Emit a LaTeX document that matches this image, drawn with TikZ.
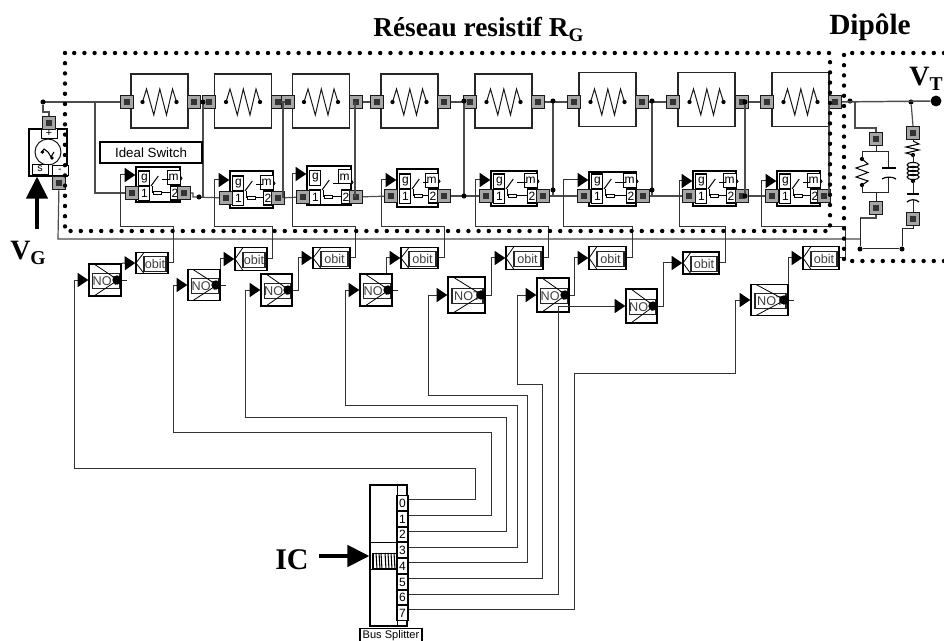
\documentclass[tikz,border=0pt]{standalone}
\usepackage{fontspec}
\setmainfont{Liberation Serif}
\setsansfont{Liberation Sans}
\usetikzlibrary{arrows.meta,calc}

\begin{document}
\begin{tikzpicture}[
  x=.75pt, y=-.75pt,
  font=\sffamily,
  wire/.style={line width=.9pt, draw=black!70},
  thin wire/.style={line width=.75pt, draw=black!85},
  sig/.style={-{Triangle[length=7.9pt,width=10.5pt,black]}, line width=.75pt, draw=black!80},
  bigarrow/.style={-{Triangle[length=16.5pt,width=16pt]}, line width=2.7pt, draw=black},
  title/.style={font=\rmfamily\bfseries\fontsize{20.5}{22}\selectfont, anchor=base west, inner sep=0},
  resbox/.style={draw=black!85, line width=1pt, fill=white, minimum width=42.8pt, minimum height=40.5pt, inner sep=0},
  swbox/.style={draw=black, line width=1.1pt, fill=white, inner sep=0},
  inbit/.style={draw=black, line width=.8pt, fill=white, inner sep=0, font=\sffamily\fontsize{9}{10}\selectfont},
  gatebox/.style={draw=black, line width=1.1pt, fill=white, inner sep=0},
  inbox/.style={draw=black!85, line width=.9pt, inner sep=0, text=black!75, font=\sffamily\fontsize{9.5}{10}\selectfont,
    minimum height=10.8pt},
  port/.style={draw=black!90, fill=black!35, line width=1pt, minimum size=9.5pt, inner sep=0,
    path picture={\fill[black!80] (path picture bounding box.center) +(-2.4pt,-2.4pt) rectangle +(2.4pt,2.4pt);}},
  jdot/.style={circle, fill=black, minimum size=3.8pt, inner sep=0},
  bitbox/.style={draw=black, line width=1pt, fill=white, inner sep=0, minimum width=8.2pt, minimum height=11.2pt,
    font=\sffamily\fontsize{9}{10}\selectfont},
  srcbit/.style={draw=black, line width=.7pt, fill=white, minimum width=12pt, minimum height=7pt, inner sep=0,
    font=\sffamily\fontsize{8}{8}\selectfont},
  dotframe/.style={line width=3.3pt, line cap=round, dash pattern=on 0pt off 7.65pt, draw=black}
]
\useasboundingbox (0,0) rectangle (944,641);

\node[title] (titre) at (373,37) {Réseau resistif R\textsubscript{G}};
\node[title, font=\rmfamily\bfseries\fontsize{22}{24}\selectfont] (dipole) at (829,35) {Dipôle};
\node[title, font=\rmfamily\bfseries\fontsize{21}{23}\selectfont] (vtlabel) at (909,86) {V\textsubscript{T}};
\node[title, font=\rmfamily\bfseries\fontsize{21}{23}\selectfont] (vglabel) at (10,260) {V\textsubscript{G}};
\node[title, font=\rmfamily\bfseries\fontsize{22.5}{24}\selectfont] (iclabel) at (275,569) {IC};

\foreach \i/\cx/\cy/\pl/\pr in {1/159.5/101/127/194, 2/243/101/209/278, 3/321/101/288/356, 4/409.5/101/377/444,
  5/503.5/101/470/538, 6/607.5/99.5/574/642, 7/706.5/99.5/673/742, 8/800.5/99.5/767/835}{
  \node[resbox] (r\i) at (\cx,\cy) {};
  \draw[line width=.75pt, black!90] (\cx-17,102) -- (\cx-13,89) -- (\cx-5.7,115) -- (\cx+.3,89) -- (\cx+7,115) -- (\cx+13,89) -- (\cx+17,102);
  \fill (\cx-17,102) circle (1.6pt) (\cx+17,102) circle (1.6pt);
  \node[port] (rl\i) at (\pl,102) {};
  \node[port] (rr\i) at (\pr,102) {};
}

\foreach \i/\x/\t/\w/\h/\pl/\pr/\py/\dy in {1/136/167/44/35/132/184/193/0, 2/230/171/43/37/226/278/198/0, 3/307/166/44/39/303/356/197/-4.5,
  4/397/169/41/38/391/444/196/0, 5/491/171/46/35/486/543/196/0, 6/589/172/47/34/584/643/196/0,
  7/693/171/43/35/689/742/196/0, 8/777/171/43/35/772/824/196/0}{
  \node[swbox, minimum width=\w*.75pt, minimum height=\h*.75pt] (s\i) at ({\x+\w/2},{\t+\h/2}) {};
  \begin{scope}[shift={({\x},{\py-27.7})}]
    \node[inbit, minimum width=8.3pt, minimum height=11.2pt] (g\i) at (8.4,{13.2+\dy}) {g};
    \node[inbit, minimum width=8.3pt, minimum height=11.2pt] (a\i) at (8.4,28.2) {1};
    \node[inbit, minimum width=9.6pt, minimum height=10.5pt] (m\i) at ({\w-6.3},{12+\dy}) {m};
    \node[inbit, minimum width=7pt, minimum height=10.5pt] (b\i) at ({\w-5},27.7) {2};
    \draw[line width=.75pt] (15,20.7) -- (22.3,10.7);
    \draw[line width=.75pt] (26,14) -- (\w-9.7,14);
    \draw[line width=.75pt] (16,20.7) -- (16,27.7) -- (17.3,27.7);
    \draw[line width=.7pt, fill=white] (17.3,26.4) rectangle (25,29);
    \draw[line width=.75pt] (25,27.7) -- (\w-9.7,27.7);
    \draw[line width=.7pt] (\w+.5,11) -- (\w+2,13) -- (\w+.5,15);
  \end{scope}
  \node[port] (sl\i) at (\pl,\py) {};
  \node[port] (sr\i) at (\pr,\py) {};
}

\foreach \i/\cx/\cy/\w/\h in {1/105/280/32/32, 2/204/285/32/31, 3/276.5/290/31/32, 4/376/290/32/32,
  5/466.5/295/37/36, 6/553/295/32/34, 7/641.5/306/31/34, 8/769.5/300/37/31}{
  \node[gatebox, minimum width=\w*.75pt, minimum height=\h*.75pt] (n\i) at (\cx,\cy) {};
  \node[inbox, minimum width=(\w-6)*.75pt] (nt\i) at (\cx+1,\cy+1) {NOT};
  \draw[line width=.6pt] (\cx-\w/2+5,\cy-\h/2) -- (\cx+\w/2-3,\cy) -- (\cx-\w/2+5,\cy+\h/2);
  \node[circle, fill=black, minimum size=7pt, inner sep=0] (nc\i) at (\cx+\w/2-4,\cy) {};
  \draw[thin wire] (nc\i) -- ++(10,0);
}

\foreach \i/\cx/\cy/\w/\h in {1/152/263/32/21, 2/251/259/32/23, 3/331.5/258/37/21, 4/419.5/258/37/21,
  5/524.5/258/37/23, 6/607.5/258/37/23, 7/701/263/36/22, 8/821/258/36/23}{
  \node[gatebox, minimum width=\w*.75pt, minimum height=\h*.75pt] (o\i) at (\cx,\cy) {};
  \node[inbox, minimum width=(\w-10)*.75pt] (ot\i) at (\cx+3,\cy+1) {obit};
  \draw[line width=.6pt] (\cx-\w/2+8,\cy-\h/2) -- (\cx-\w/2,\cy) -- (\cx-\w/2+8,\cy+\h/2);
}

\draw[wire] (rl1) -- (43,102);
\draw[wire] (95,102) |- (sl1);
\foreach \a/\b in {1/2, 2/3, 3/4, 4/5, 5/6, 6/7, 7/8}{
  \draw[wire] (rr\a) -- (rl\b);
}
\draw[wire] (sr1) -- (193,193) -- (193,197) -- (sl2);
\foreach \a/\b in {2/3, 3/4, 4/5, 5/6, 6/7, 7/8}{
  \draw[wire] (sr\a) -- (sl\b);
}
\foreach \x/\ya/\yb in {203/102/197, 283/102/198, 355/102/197, 464/102/196, 553/102/196, 652/102/196, 745/102/196, 829/102/196}{
  \draw[wire] (\x,\ya) -- (\x,\yb);
}
\draw[wire] (sr8) -- (829,196);

\foreach \n/\x/\y in {a/43/102, b/199/197, c/203/102, d/464/101, e/464/196, f/553/101, h/553/190,
  k/652/101, l/652/190, p/745/102, q/745/196, t/850/101, u/911/102, v/860/249, w/902/249}{
  \node[jdot] (j\n) at (\x,\y) {};
}

\node[draw=black, line width=.85pt, fill=white, minimum width=76.5pt, minimum height=15.7pt, inner sep=0,
  font=\sffamily\fontsize{10}{11}\selectfont] (ideal) at (151,152.5) {Ideal Switch};

\node[draw=black, line width=1pt, fill=white, minimum width=28.5pt, minimum height=35.2pt, inner sep=0] (src) at (48,152.5) {};
\node[srcbit] (srcp) at (49,133.5) {+};
\node[draw=black, line width=.7pt, fill=white, circle, minimum size=19.5pt, inner sep=0] (ac) at (48,152) {};
\node[srcbit, minimum height=7.5pt] (srcs) at (40,169) {s};
\node[srcbit] (srcm) at (60,170.5) {-};
\draw[line width=.8pt] (41,153) -- (44,149) -- (48,152) -- (51,157) -- (54,152);
\fill (42.5,152) circle (1.4pt) (52,158) circle (1.4pt);
\node[port] (srctop) at (49,123) {};
\node[port] (srcbot) at (59,183) {};
\draw[wire] (srctop) -- (49,112) -- (43,112) -- (ja);
\draw[wire] (srcbot) -- (58,239) -- (860,239);

\coordinate (vgtail) at (37,229);
\draw[bigarrow] (vgtail) -- (vgtail |- src.south);

\foreach \o/\s/\xr/\xl/\yt in {1/1/173/120/175, 2/2/272/214/180, 3/3/355/292/174, 4/4/444/381/180,
  5/5/548/475/180, 6/6/632/563/180, 7/7/725/679/181, 8/8/845/761/181}{
  \draw[sig] (o\o.east) -| (\xr,227) -| (\xl,\yt) -- (s\s.west |- 0,\yt);
}

\draw[sig] (n1.north east) -- (o1.west);
\draw[sig] (n2.north east) |- (o2.west);
\draw[sig] (n3.east) -- (298,290) |- (o3.west);
\draw[sig] (386,0 |- n4.north) |- (o4.west);
\draw[sig] (n5.east) -- (491,295) |- (o5.west);
\draw[sig] (n6.east) -- (574,295) |- (o6.west);
\draw[sig] (n7.east) -- (663,306) |- (o7.west);
\draw[sig] (n8.north east) |- (o8.west);

\node[draw=black, line width=1pt, fill=white, minimum width=27.7pt, minimum height=105.7pt, inner sep=0] (bus) at (388.5,555.5) {};
\draw[line width=.75pt] (397,485) -- (397,626);
\draw[line width=.6pt] (370,542) -- (397,542);
\draw[line width=.6pt] (370,569) -- (397,569);
\node[draw=black, line width=.8pt, minimum width=21pt, minimum height=11.2pt, inner sep=0] (busin) at (387,561) {};
\foreach \x in {376,379,381,385,388,391,394,397}{
  \draw[line width=.8pt] (\x,553) -- (\x+1,569);
}
\foreach \i/\y in {0/503, 1/519, 2/534.6, 3/550, 4/566, 5/582, 6/597.5, 7/613}{
  \node[bitbox] (b\i) at (402.5,\y) {\i};
}
\node[draw=black, line width=.9pt, fill=white, minimum width=46.5pt, minimum height=10pt, inner sep=0,
  font=\sffamily\fontsize{8.3}{9}\selectfont] (split) at (391,635.5) {Bus Splitter};

\foreach \i/\y/\xv/\yh/\xl/\n in {0/499/475/468/74/1, 1/515/491/432/173/2, 2/531/506/417/245/3, 3/547/517/405/345/4,
  4/562/527/395/428/5, 5/578/542/384/517/6, 7/609/574/373/735/8}{
  \draw[sig] (b\i.east |- 0,\y) -| (\xv,\yh) -| (\xl,0 |- n\n.west) -- (n\n.west);
}
\draw[sig] (b6.east |- 0,594) -| (558,0 |- n7.west) -- (n7.west);

\coordinate (ictail) at (319,556);
\draw[bigarrow] (ictail) -- (bus.west |- ictail);

\node[circle, fill=black, minimum size=8.2pt, inner sep=0] (vt) at (936,101) {};
\draw[wire, line width=1.1pt] (rr8) -- (vt);

\node[port] (dp1) at (876,139) {};
\node[port] (dp2) at (876,208) {};
\node[port] (dp3) at (913,133) {};
\node[port] (dp4) at (913,219) {};
\coordinate (dc1) at (855,102);
\draw[wire] (dc1) -- (855,128) -| (dp1.north);
\draw[thin wire] (dp1.south) -- (876,152);
\draw[thin wire] (862,159) -- (862,152) -- (888,152) -- (888,168);
\draw[thin wire] (862,185) -- (862,193) -- (888,193) -- (888,177);
\draw[thin wire] (876,193) -- (dp2.north);
\draw[line width=.75pt] (862,159) -- (868,164) -- (856,168) -- (868,172.5) -- (856,177) -- (868,181) -- (862,185);
\fill (862,159) circle (1.6pt) (862,185) circle (1.6pt);
\draw[line width=.9pt] (882,168) -- (896,168);
\draw[line width=.9pt] (882,179) .. controls (885,176.5) and (893,176.5) .. (896,179);
\draw[wire] (dp2.south) -- (876,218) -- (860,218);
\draw[thin wire] (860,218) -- (jv) -- (jw);
\draw[wire] (ju) -- (dp3.north);
\draw[thin wire] (dp3.south) -- (913,141);
\draw[line width=.8pt] (913,141) -- (919,144) -- (906,147) -- (919,150) -- (906,153) -- (913,155);
\fill (913,155) circle (1.6pt) (913,181) circle (1.6pt);
\draw[thin wire] (913,155) -- (913,163);
\foreach \y in {165,169,173,177}{
  \draw[line width=.8pt] (913,\y) ellipse (4.5pt and 1.9pt);
}
\draw[thin wire] (913,181) -- (913,194);
\draw[line width=.9pt] (907,194) -- (919,194);
\draw[line width=.9pt] (907,202) .. controls (910,199) and (916,199) .. (919,202);
\draw[thin wire] (913,200) -- (dp4.north);
\draw[thin wire] (dp4.south) -- (913,229) -- (902,229) -- (jw);

\draw[dotframe] (65,53) rectangle (830,231);
\draw[dotframe] (944,53) -- (844,53) -- (844,261) -- (944,261);
\end{tikzpicture}
\end{document}
